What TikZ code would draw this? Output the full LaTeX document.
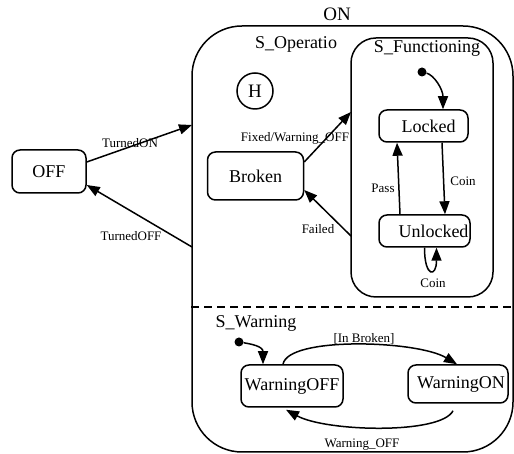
\documentclass[tikz,border=0pt]{standalone}
\usepackage{fontspec}
\setmainfont{Liberation Serif}
\usetikzlibrary{arrows.meta}
\begin{document}
\begin{tikzpicture}[x=1pt,y=1pt,
  state/.style={draw,line width=1.5pt,rounded corners=8pt,inner sep=0pt,font=\fontsize{18}{20}\selectfont},
  region/.style={draw,line width=1.5pt,inner sep=0pt},
  lbl/.style={inner sep=0pt,font=\fontsize{13}{15}\selectfont},
  rlbl/.style={inner sep=0pt,font=\fontsize{18}{20}\selectfont},
  conn/.style={line width=1.5pt,-{Triangle[length=13pt,width=10pt]}},
  initdot/.style={circle,fill,inner sep=0pt,minimum size=9pt}]
\useasboundingbox (0,0) rectangle (514,454);
% ON super state
\node[region,rounded corners=50pt,minimum width=321pt,minimum height=426pt] (on) at (352.5,215) {};
\node[rlbl,font=\fontsize{19}{21}\selectfont] (onlbl) at (337,440) {ON};
\draw[line width=1.5pt,dash pattern=on 8pt off 5pt] (on.west |- 0,147) coordinate (dl) -- (on.east |- 0,147) coordinate (dr);
\node[rlbl] (soplbl) at (296,410) {S\_Operatio};
\node[draw,circle,line width=1.5pt,minimum size=36pt,inner sep=0pt,font=\fontsize{19}{21}\selectfont] (hist) at (255,363) {H};
% S_Functioning
\node[region,rounded corners=25pt,minimum width=142pt,minimum height=259pt] (sfunc) at (422,286.5) {};
\node[rlbl] (sflbl) at (427,406) {S\_Functioning};
% states
\node[state,minimum width=74pt,minimum height=43pt] (off) at (49,282.5) {OFF};
\node[state,minimum width=96pt,minimum height=48pt] (broken) at (255.5,278) {Broken};
\node[state,minimum width=89pt,minimum height=32pt] (locked) at (423.5,328) {\hspace*{10pt}Locked};
\node[state,minimum width=91pt,minimum height=32pt] (unlocked) at (424.5,223) {\hspace*{18pt}Unlocked};
\node[initdot] (init1) at (422,382) {};
\node[state,minimum width=102pt,minimum height=42pt] (woff) at (292,68) {WarningOFF};
\node[state,minimum width=100pt,minimum height=38pt] (won) at (458,70) {\hspace*{6pt}WarningON};
\node[initdot] (init2) at (239,112) {};
\node[rlbl] (swlbl) at (256,131) {S\_Warning};
% boundary coordinates
\coordinate (onIn) at (192,329);
\coordinate (onOut) at (192,207);
\coordinate (sfIn) at (351,342);
\coordinate (sfOut) at (351,218);
% connectors
\draw[conn] ([yshift=9.5pt]off.east) -- (onIn);
\draw[conn] (onOut) -- ([yshift=-13.5pt]off.east);
\draw[conn] ([yshift=14pt]broken.east) -- (sfIn);
\draw[conn] (sfOut) -- ([yshift=-14pt]broken.east);
\draw[conn] (init1) .. controls +(12,-3) and +(0,20) .. ([xshift=19.5pt]locked.north);
\draw[conn] ([xshift=18.5pt]locked.south) -- ([xshift=20.5pt]unlocked.north);
\draw[conn] ([xshift=-24.5pt]unlocked.north) -- ([xshift=-26.5pt]locked.south);
\draw[conn] (unlocked.south) .. controls +(0,-30) and +(0,-30) .. ([xshift=12pt]unlocked.south);
\draw[conn] (init2) .. controls +(12,-2) and +(0,18) .. ([xshift=-29pt]woff.north);
\draw[conn] ([xshift=-9pt]woff.north) .. controls +(5,28) and +(-40,24) .. ([xshift=-1pt]won.north);
\draw[conn] ([shift={(-5pt,-7pt)}]won.south) .. controls +(-12,-24) and +(40,-22) .. ([shift={(-6pt,-2pt)}]woff.south);
% labels
\node[lbl] (l1) at (130,311) {TurnedON};
\node[lbl] (l2) at (131,218) {TurnedOFF};
\node[lbl] (l3) at (295,316) {Fixed/Warning\_OFF};
\node[lbl] (l4) at (318,225) {Failed};
\node[lbl] (l5) at (383,266) {Pass};
\node[lbl] (l6) at (463,273) {Coin};
\node[lbl] (l7) at (433,171) {Coin};
\node[lbl] (l8) at (364,115) {[In Broken]};
\node[lbl] (l9) at (362,9) {Warning\_OFF};
\end{tikzpicture}
\end{document}
